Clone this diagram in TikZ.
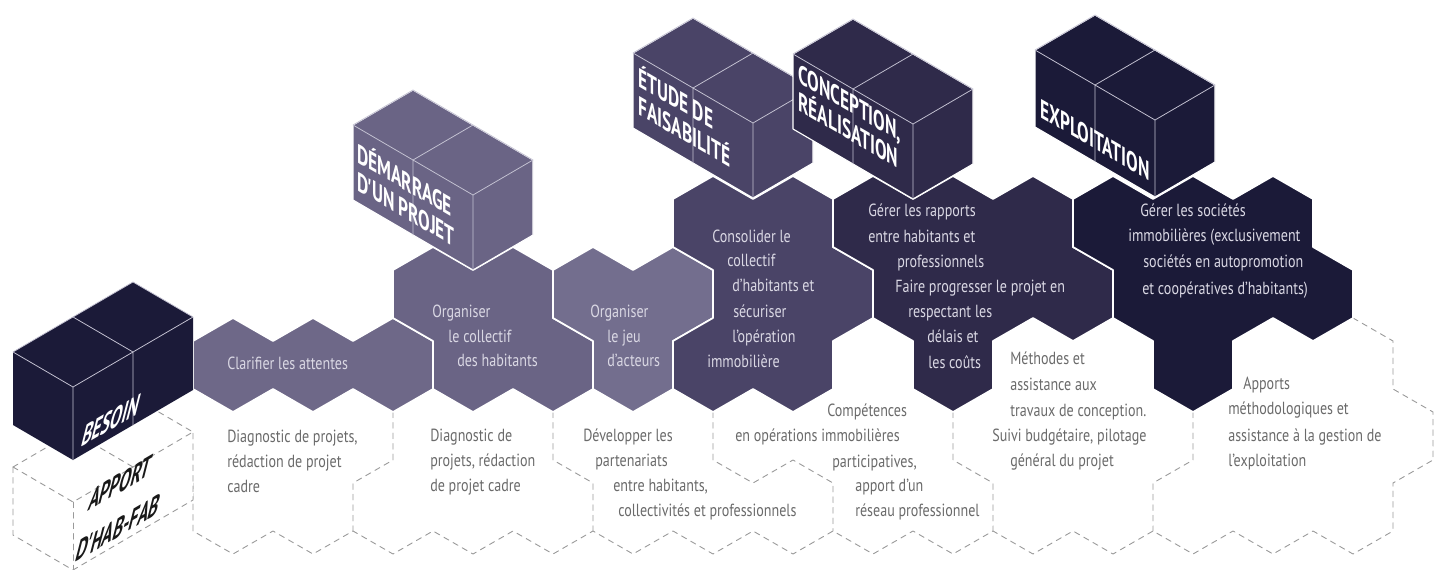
\documentclass[tikz,border=0pt]{standalone}
\usepackage{fontspec}
\setmainfont{PT Sans}[FakeStretch=0.8]
\newfontfamily\ttlfont{PT Sans}[FakeStretch=0.65]

\definecolor{clarC}{HTML}{6E6888}
\definecolor{collC}{HTML}{6A6485}
\definecolor{jeuC}{HTML}{736E8E}
\definecolor{consC}{HTML}{4A4467}
\definecolor{gerC}{HTML}{2F2A4A}
\definecolor{socC}{HTML}{1B1A38}
\definecolor{boxedge}{HTML}{C4C2D2}
\definecolor{dashgray}{HTML}{9A9A9A}
\definecolor{softtxt}{HTML}{DAD8E4}
\definecolor{graytxt}{HTML}{6A6A6A}

\begin{document}
\begin{tikzpicture}[x=0.25mm,y=-0.25mm,line join=round,line cap=round,
  region/.style={draw=white,line width=1.2pt},
  apportline/.style={draw=dashgray,line width=0.65pt,dash pattern=on 4pt off 3.5pt},
  boxline/.style={draw=boxedge,line width=0.55pt},
  txt/.style={anchor=west,inner sep=0pt,text=softtxt,font=\fontsize{12.5}{14}\selectfont,text height=1.6ex,text depth=.3ex},
  dtxt/.style={txt,text=graytxt},
  ttlbase/.style={anchor=base west,inner sep=0pt,align=left,text=white,font=\ttlfont\bfseries\fontsize{19}{20}\selectfont},
  ttl/.style={ttlbase,yslant=-0.583},
  rttl/.style={ttlbase,yslant=0.583,xslant=0.3}]
  \useasboundingbox (0,0) rectangle (1437,569);

  % dashed apport cells
  \draw[apportline] (193,483)--(193,531)
    \foreach \i in {0,...,14}{--({233+80*\i},554)--({273+80*\i},531)}--(1393,531);
  \draw[apportline] (1353,318)--(1393,341)--(1393,389)--(1433,412)--(1433,460)--(1393,483)--(1393,531);
  \draw[apportline] (393,412)--(393,460)--(353,483)--(353,531);
  \draw[apportline] (553,412)--(553,460)--(593,483)--(593,531);
  \draw[apportline] (713,412)--(713,460)--(753,483)--(793,460)--(833,483)--(833,531);
  \draw[apportline] (953,412)--(953,460)--(993,483)--(993,531);
  \draw[apportline] (1193,412)--(1193,460)--(1153,483)--(1153,531);

  % dashed box
  \fill[white] (13,467)--(133,397)--(193,432)--(193,500)--(73,570)--(13,535)--cycle;
  \draw[apportline] (13,467)--(133,397)--(193,432)--(73,502)--cycle;
  \draw[apportline] (73,432)--(133,467);
  \draw[apportline] (13,467)--(13,535)--(73,570)--(193,500)--(193,432);
  \draw[apportline] (73,502)--(73,570);

  % colored cells
  \filldraw[region,fill=clarC] (193,341)--(233,318)--(273,341)--(313,318)--(353,341)--(393,318)--(433,341)--(433,389)--(393,412)--(353,389)--(313,412)--(273,389)--(233,412)--(193,389)--cycle;
  \filldraw[region,fill=collC] (393,270)--(433,247)--(473,270)--(513,247)--(553,270)--(553,318)--(593,341)--(593,389)--(553,412)--(513,389)--(473,412)--(433,389)--(433,341)--(393,318)--cycle;
  \filldraw[region,fill=jeuC] (553,270)--(593,247)--(633,270)--(673,247)--(713,270)--(713,318)--(673,341)--(673,389)--(633,412)--(593,389)--(593,341)--(553,318)--cycle;
  \filldraw[region,fill=consC] (673,199)--(713,176)--(753,199)--(793,176)--(833,199)--(833,247)--(873,270)--(873,318)--(833,341)--(833,389)--(793,412)--(753,389)--(713,412)--(673,389)--(673,341)--(713,318)--(713,270)--(673,247)--cycle;
  \filldraw[region,fill=gerC] (833,199)--(873,176)--(913,199)--(953,176)--(993,199)--(1033,176)--(1073,199)--(1073,247)--(1113,270)--(1113,318)--(1073,341)--(1033,318)--(993,341)--(993,389)--(953,412)--(913,389)--(913,341)--(873,318)--(873,270)--(833,247)--cycle;
  \filldraw[region,fill=socC] (1073,199)--(1113,176)--(1153,199)--(1193,176)--(1233,199)--(1273,176)--(1313,199)--(1313,247)--(1353,270)--(1353,318)--(1313,341)--(1273,318)--(1233,341)--(1233,389)--(1193,412)--(1153,389)--(1153,341)--(1113,318)--(1113,270)--(1073,247)--cycle;

  % boxes
  \fill[socC] (13,352)--(133,282)--(193,317)--(193,390)--(73,460)--(13,425)--cycle;
  \draw[boxline] (13,352)--(133,282)--(193,317)--(73,387)--cycle (73,317)--(133,352)--(133,425) (73,387)--(73,460);

  \filldraw[white,line width=0.8pt,fill=collC] (353,125)--(413,90)--(533,160)--(533,235)--(473,270)--(353,200)--cycle;
  \draw[boxline] (353,125)--(413,90)--(533,160)--(473,195)--cycle (413,160)--(473,125) (413,160)--(413,235) (473,195)--(473,270);

  \filldraw[white,line width=0.8pt,fill=consC] (633,53)--(693,18)--(813,88)--(813,163)--(753,198)--(633,128)--cycle;
  \draw[boxline] (633,53)--(693,18)--(813,88)--(753,123)--cycle (693,88)--(753,53) (693,88)--(693,163) (753,123)--(753,198);

  \filldraw[white,line width=0.8pt,fill=gerC] (793,54)--(853,19)--(973,89)--(973,164)--(913,199)--(793,129)--cycle;
  \draw[boxline] (793,54)--(853,19)--(973,89)--(913,124)--cycle (853,89)--(913,54) (853,89)--(853,164) (913,124)--(913,199);

  \filldraw[white,line width=0.8pt,fill=socC] (1035,50)--(1095,15)--(1215,85)--(1215,162)--(1155,197)--(1035,127)--cycle;
  \draw[boxline] (1035,50)--(1095,15)--(1215,85)--(1155,120)--cycle (1095,85)--(1155,50) (1095,85)--(1095,162) (1155,120)--(1155,197);

  % box titles (anchor on the last line)
  \node[rttl] (besoin) at (80,448) {BESOIN};
  \node[rttl,text=black!90] (apport) at (74,563) {APPORT\\[11pt]D'HAB-FAB};
  \node[ttl] (dem) at (357,190) {DÉMARRAGE\\D'UN PROJET};
  \node[ttl] (etu) at (638,114) {ÉTUDE DE\\FAISABILITÉ};
  \node[ttl] (con) at (798,110) {CONCEPTION,\\RÉALISATION};
  \node[ttl] (expl) at (1040,117) {EXPLOITATION};

  % texts in colored cells
  \node[txt] (clar) at (227,365) {Clarifier les attentes};
  \node[txt] (coll1) at (432,313) {Organiser};
  \node[txt] (coll2) at (448,338) {le collectif};
  \node[txt] (coll3) at (457,362) {des habitants};
  \node[txt] (jeu1) at (590,313) {Organiser};
  \node[txt] (jeu2) at (607,338) {le jeu};
  \node[txt] (jeu3) at (607,362) {d'acteurs};
  \node[txt] (cons1) at (712,238) {Consolider le};
  \node[txt] (cons2) at (727,262) {collectif};
  \node[txt] (cons3) at (732,287) {d'habitants et};
  \node[txt] (cons4) at (733,313) {sécuriser};
  \node[txt] (cons5) at (732,338) {l'opération};
  \node[txt] (cons6) at (707,363) {immobilière};
  \node[txt] (ger1) at (868,212) {Gérer les rapports};
  \node[txt] (ger2) at (868,238) {entre habitants et};
  \node[txt] (ger3) at (897,263) {professionnels};
  \node[txt] (ger4) at (895,288) {Faire progresser le projet en};
  \node[txt] (ger5) at (908,313) {respectant les};
  \node[txt] (ger6) at (927,338) {délais et};
  \node[txt] (ger7) at (928,364) {les coûts};
  \node[txt] (soc1) at (1140,212) {Gérer les sociétés};
  \node[txt] (soc2) at (1128,237) {immobilières (exclusivement};
  \node[txt] (soc3) at (1143,263) {sociétés en autopromotion};
  \node[txt] (soc4) at (1142,290) {et coopératives d'habitants)};

  % texts in dashed cells
  \node[dtxt] (diag1) at (227,438) {Diagnostic de projets,};
  \node[dtxt] (diag2) at (227,463) {rédaction de projet};
  \node[dtxt] (diag3) at (227,488) {cadre};
  \node[dtxt] (diagb1) at (430,437) {Diagnostic de};
  \node[dtxt] (diagb2) at (430,462) {projets, rédaction};
  \node[dtxt] (diagb3) at (430,487) {de projet cadre};
  \node[dtxt] (dev1) at (583,437) {Développer les};
  \node[dtxt] (dev2) at (595,462) {partenariats};
  \node[dtxt] (dev3) at (613,487) {entre habitants,};
  \node[dtxt] (dev4) at (618,512) {collectivités et professionnels};
  \node[dtxt] (comp1) at (827,412) {Compétences};
  \node[dtxt] (comp2) at (735,437) {en opérations immobilières};
  \node[dtxt] (comp3) at (832,463) {participatives,};
  \node[dtxt] (comp4) at (855,487) {apport d'un};
  \node[dtxt] (comp5) at (855,512) {réseau professionnel};
  \node[dtxt] (meth1) at (1010,360) {Méthodes et};
  \node[dtxt] (meth2) at (1010,386) {assistance aux};
  \node[dtxt] (meth3) at (1010,412) {travaux de conception.};
  \node[dtxt] (meth4) at (992,437) {Suivi budgétaire, pilotage};
  \node[dtxt] (meth5) at (1010,462) {général du projet};
  \node[dtxt] (app1) at (1243,385) {Apports};
  \node[dtxt] (app2) at (1228,410) {méthodologiques et};
  \node[dtxt] (app3) at (1228,437) {assistance à la gestion de};
  \node[dtxt] (app4) at (1228,462) {l'exploitation};
\end{tikzpicture}
\end{document}
